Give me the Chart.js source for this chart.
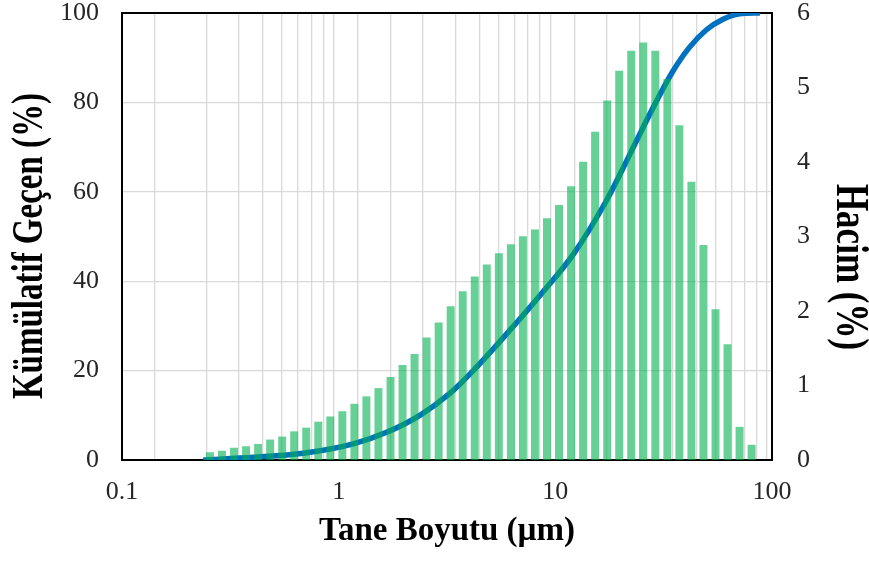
<!DOCTYPE html>
<html>
<head>
<meta charset="utf-8">
<script src="https://cdn.jsdelivr.net/npm/chart.js@4"></script>
<style>
  body { margin: 0; background: #fff; }
  #wrap { width: 869px; height: 561px; }
</style>
</head>
<body>
<div id="wrap"><canvas id="grafik"></canvas></div>
<script>
// ================= VERI =================
// tane boyutu sinif ortalari (um)
const boyutlar = [
  0.2546, 0.2893, 0.3289, 0.3738, 0.4248, 0.4828, 0.5486, 0.6234, 0.7085, 0.8051,
  0.9150, 1.040, 1.182, 1.343, 1.526, 1.735, 1.972, 2.240, 2.546, 2.894,
  3.289, 3.737, 4.247, 4.827, 5.486, 6.234, 7.085, 8.052, 9.150, 10.40,
  11.82, 13.43, 15.26, 17.35, 19.72, 22.40, 25.46, 28.94, 32.89, 37.37,
  42.47, 48.27, 54.86, 62.34, 70.85, 80.52
];

// hacim (%)
const hacim = [
  0.10, 0.12, 0.16, 0.18, 0.21, 0.27, 0.31, 0.38, 0.43, 0.51,
  0.58, 0.65, 0.75, 0.85, 0.96, 1.11, 1.27, 1.42, 1.64, 1.84,
  2.06, 2.26, 2.46, 2.62, 2.77, 2.89, 3.00, 3.09, 3.24, 3.42,
  3.67, 4.00, 4.40, 4.82, 5.22, 5.49, 5.60, 5.49, 5.11, 4.49,
  3.73, 2.88, 2.02, 1.55, 0.44, 0.20
];

// kumulatif gecen egrisi (um, %)
const egriBoyut = [0.2372, 0.4036, 0.687, 1.168, 1.665, 2.37, 3.26, 4.18, 5.96, 8.49, 12.1, 17.2, 20.4, 24.3, 29.1, 34.7, 41.4, 49.7, 59.4, 70.8, 87.9];
const egriGecen = [0, 0.6, 1.5, 3.6, 6.2, 10.0, 14.9, 20.0, 28.2, 36.8, 46.0, 58.0, 65.0, 72.5, 80.0, 86.8, 92.2, 96.2, 98.6, 99.8, 100];

const xEtiketleri = [0.1, 1, 10, 100];

// ================= GRAFIK =================
const yazi = "'Liberation Serif', 'Times New Roman', serif";
const yaziRengi = "#262626";

// cizim alaninin etrafindaki siyah cerceve
const cerceve = {
  id: "cerceve",
  beforeDatasetsDraw(chart) {
    const { ctx, chartArea: a } = chart;
    ctx.save();
    ctx.strokeStyle = "#000";
    ctx.lineWidth = 2;
    ctx.strokeRect(a.left, a.top, a.right - a.left, a.bottom - a.top);
    ctx.restore();
  }
};

// dikey eksen basliklari (yatayda biraz genis)
const dikeyBasliklar = {
  id: "dikeyBasliklar",
  afterDraw(chart) {
    const { ctx, chartArea: a } = chart;
    const yaz = (metin, x, y, aci, boyut) => {
      ctx.save();
      ctx.translate(x, y);
      ctx.scale(1.35, 1);
      ctx.rotate(aci);
      ctx.font = `bold ${boyut}px ${yazi}`;
      ctx.fillStyle = "#000";
      ctx.textAlign = "center";
      ctx.textBaseline = "middle";
      ctx.fillText(metin, 0, 0);
      ctx.restore();
    };
    yaz("Kümülatif Geçen (%)", 30, a.top + 233, -Math.PI / 2, 33);
    yaz("Hacim (%)", chart.width - 20, a.top + 254, Math.PI / 2, 35);
  }
};

new Chart(document.getElementById("grafik"), {
  type: "bar",
  data: {
    datasets: [
      {
        type: "bar",
        label: "Hacim",
        data: boyutlar.map((b, i) => ({ x: b, y: hacim[i] })),
        yAxisID: "y2",
        backgroundColor: "rgba(0, 176, 80, 0.6)",
        barThickness: 7.3,
        order: 0
      },
      {
        type: "line",
        label: "Kümülatif Geçen",
        data: egriBoyut.map((b, i) => ({ x: b, y: egriGecen[i] })),
        yAxisID: "y",
        borderColor: "#0070C0",
        borderWidth: 5.5,
        pointRadius: 0,
        cubicInterpolationMode: "monotone",
        order: 1
      }
    ]
  },
  options: {
    responsive: true,
    maintainAspectRatio: false,
    animation: false,
    layout: { padding: { top: 13, left: 0, right: 0, bottom: 0 } },
    plugins: { legend: { display: false }, tooltip: { enabled: false } },
    scales: {
      x: {
        type: "logarithmic",
        min: 0.1,
        max: 100,
        afterFit: s => { s.height = 101; s.paddingLeft = 0; s.paddingRight = 0; },
        grid: { color: "#d9d9d9", lineWidth: 1.3, drawTicks: false },
        border: { display: false },
        ticks: {
          autoSkip: false,
          maxRotation: 0,
          padding: 17,
          color: yaziRengi,
          font: { family: yazi, size: 26 },
          callback: v => (xEtiketleri.includes(v) ? String(v) : "")
        },
        title: {
          display: true,
          text: "Tane Boyutu (µm)",
          color: "#000",
          font: { family: yazi, size: 33, weight: "bold", lineHeight: 1 },
          padding: { top: 0, bottom: 13 }
        }
      },
      y: {
        position: "left",
        min: 0,
        max: 100,
        afterFit: s => { s.width = 122; s.paddingTop = 0; s.paddingBottom = 0; },
        grid: { color: "#d9d9d9", lineWidth: 1.3, drawTicks: false },
        border: { display: false },
        ticks: {
          stepSize: 20,
          padding: 23,
          color: yaziRengi,
          font: { family: yazi, size: 26 }
        }
      },
      y2: {
        position: "right",
        min: 0,
        max: 6,
        afterFit: s => { s.width = 97; s.paddingTop = 0; s.paddingBottom = 0; },
        grid: { display: false, drawTicks: false },
        border: { display: false },
        ticks: {
          stepSize: 1,
          padding: 25,
          color: yaziRengi,
          font: { family: yazi, size: 26 }
        }
      }
    }
  },
  plugins: [cerceve, dikeyBasliklar]
});
</script>
</body>
</html>
